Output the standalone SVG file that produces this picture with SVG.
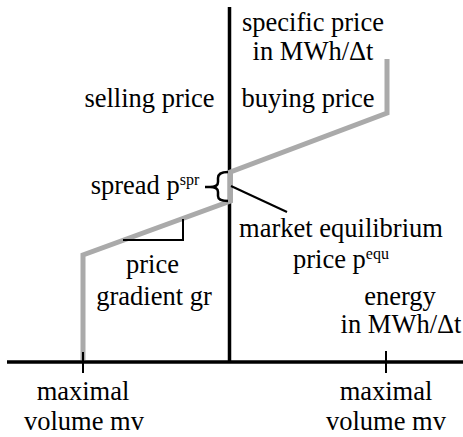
<svg xmlns="http://www.w3.org/2000/svg" width="463" height="437" viewBox="0 0 463 437">
  <style>
    .t { font-family: "Liberation Serif", "Times New Roman", serif; font-size: 26.5px; fill: #000; text-anchor: middle; }
    .sup { font-size: 16px; }
    .axis { stroke: #000; stroke-width: 3.5; fill: none; }
    .curve { stroke: #aaaaaa; stroke-width: 5; fill: none; stroke-linejoin: miter; }
    .thin { stroke: #000; stroke-width: 2; fill: none; }
    .brace { stroke: #000; stroke-width: 2.5; fill: none; }
  </style>
  <rect width="463" height="437" fill="#fff"/>
  <g id="axes">
    <line class="axis" x1="229.5" y1="7" x2="229.5" y2="362"/>
    <line class="axis" x1="7" y1="362" x2="463" y2="362"/>
  </g>
  <g id="curve">
    <polyline class="curve" points="83,360 83,255 230.5,201 230.5,172 387,113 387,59"/>
  </g>
  <g id="connectors">
    <line class="thin" x1="83" y1="352" x2="83" y2="373"/>
    <line class="thin" x1="386" y1="351" x2="386" y2="373"/>
    <polyline class="thin" points="123,240 183,240 183,219"/>
    <path class="brace" d="M228,172 C221,172 218,174 218,178 L218,182 C218,185 215,187 210,187 L205,187 M210,187 C215,187 218,189 218,192 L218,196 C218,199 221,201 228,201"/>
    <line class="thin" x1="231" y1="186" x2="287" y2="212"/>
  </g>
  <g id="y-axis-label">
    <text class="t" x="313" y="31">specific price</text>
    <text class="t" x="313" y="60">in MWh/Δt</text>
  </g>
  <g id="selling-price"><text class="t" x="149.5" y="107">selling price</text></g>
  <g id="buying-price"><text class="t" x="308" y="107">buying price</text></g>
  <g id="spread"><text class="t" x="145" y="194">spread p<tspan class="sup" dy="-9">spr</tspan></text></g>
  <g id="equilibrium">
    <text class="t" x="341" y="237">market equilibrium</text>
    <text class="t" x="341" y="268">price p<tspan class="sup" dy="-9">equ</tspan></text>
  </g>
  <g id="gradient">
    <text class="t" x="152.5" y="273">price</text>
    <text class="t" x="154" y="305">gradient gr</text>
  </g>
  <g id="x-axis-label">
    <text class="t" x="400" y="305">energy</text>
    <text class="t" x="401" y="333">in MWh/Δt</text>
  </g>
  <g id="mv-left">
    <text class="t" x="83" y="400">maximal</text>
    <text class="t" x="84" y="430">volume mv</text>
  </g>
  <g id="mv-right">
    <text class="t" x="386" y="400">maximal</text>
    <text class="t" x="386" y="430">volume mv</text>
  </g>
</svg>
